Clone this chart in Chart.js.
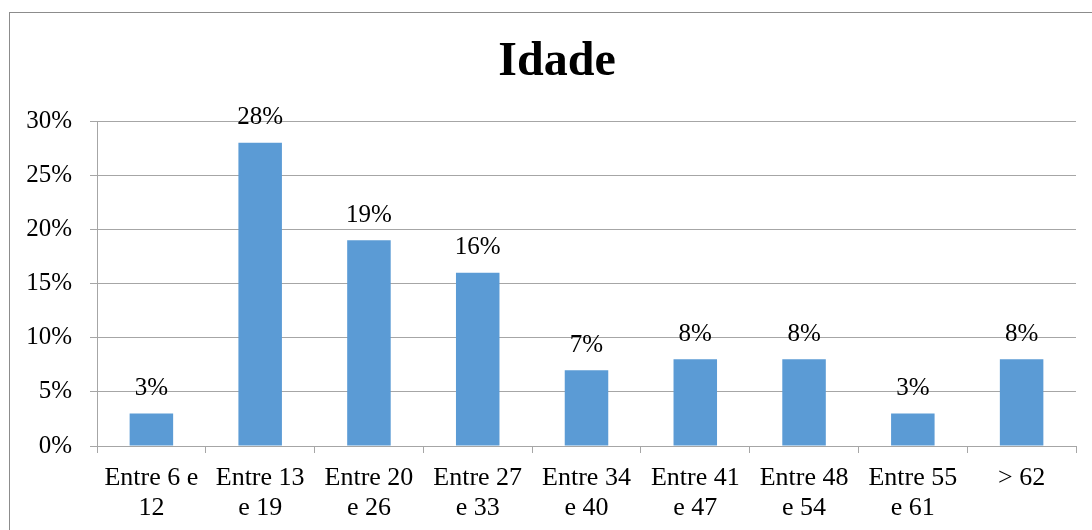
<!DOCTYPE html>
<html>
<head>
<meta charset="utf-8">
<script src="https://cdn.jsdelivr.net/npm/chart.js@4/dist/chart.umd.min.js"></script>
<style>
  html, body { margin: 0; padding: 0; background: #fff; }
  #wrap { width: 1092px; height: 530px; position: relative; }
</style>
</head>
<body>
<div id="wrap"><canvas id="chart"></canvas></div>
<script>
const categories = [
    ['Entre 6 e', '12'],
    ['Entre 13', 'e 19'],
    ['Entre 20', 'e 26'],
    ['Entre 27', 'e 33'],
    ['Entre 34', 'e 40'],
    ['Entre 41', 'e 47'],
    ['Entre 48', 'e 54'],
    ['Entre 55', 'e 61'],
    '> 62'
];
const values = [3, 28, 19, 16, 7, 8, 8, 3, 8];
const chartTitle = 'Idade';

const serif = '"Liberation Serif", "Times New Roman", serif';
const gridGrey = '#a6a6a6';

// frame around the whole chart area + title (the frame runs past the right/bottom edge)
const framePlugin = {
    id: 'frame',
    beforeDraw(chart) {
        const ctx = chart.ctx;
        ctx.save();
        ctx.strokeStyle = '#8c8c8c';
        ctx.lineWidth = 1;
        ctx.strokeRect(9.5, 12.5, chart.width + 20, chart.height + 20);
        ctx.font = 'bold 48px ' + serif;
        ctx.fillStyle = '#000';
        ctx.textAlign = 'center';
        ctx.textBaseline = 'middle';
        ctx.fillText(chartTitle, 557, 63);
        ctx.restore();
    }
};

// value labels above the bars
const valueLabels = {
    id: 'valueLabels',
    afterDatasetsDraw(chart) {
        const ctx = chart.ctx;
        const meta = chart.getDatasetMeta(0);
        ctx.save();
        ctx.font = '25px ' + serif;
        ctx.fillStyle = '#000';
        ctx.textAlign = 'center';
        ctx.textBaseline = 'middle';
        meta.data.forEach((bar, i) => {
            ctx.fillText(values[i] + '%', bar.x, bar.y - 25);
        });
        ctx.restore();
    }
};

new Chart(document.getElementById('chart'), {
    type: 'bar',
    data: {
        labels: categories,
        datasets: [{
            data: values,
            backgroundColor: '#5b9bd5',
            borderWidth: 0,
            categoryPercentage: 1,
            barPercentage: 0.4
        }]
    },
    options: {
        responsive: true,
        maintainAspectRatio: false,
        animation: false,
        layout: { padding: { left: 0, right: 16, top: 121, bottom: 0 } },
        plugins: {
            legend: { display: false },
            tooltip: { enabled: false },
            title: { display: false }
        },
        scales: {
            x: {
                grid: {
                    drawOnChartArea: false,
                    drawTicks: true,
                    tickLength: 7,
                    color: gridGrey,
                    offset: true
                },
                border: { color: gridGrey },
                ticks: {
                    color: '#000',
                    font: { family: serif, size: 26, lineHeight: 1.12 },
                    padding: 11,
                    maxRotation: 0,
                    autoSkip: false
                },
                afterFit(scale) { scale.height = 84; }
            },
            y: {
                min: 0,
                max: 30,
                grid: { color: gridGrey, tickLength: 7 },
                border: { color: gridGrey },
                ticks: {
                    stepSize: 5,
                    color: '#000',
                    font: { family: serif, size: 25 },
                    padding: 18,
                    callback: v => v + '%'
                },
                afterFit(scale) { scale.width = 97; }
            }
        }
    },
    plugins: [framePlugin, valueLabels]
});
</script>
</body>
</html>
